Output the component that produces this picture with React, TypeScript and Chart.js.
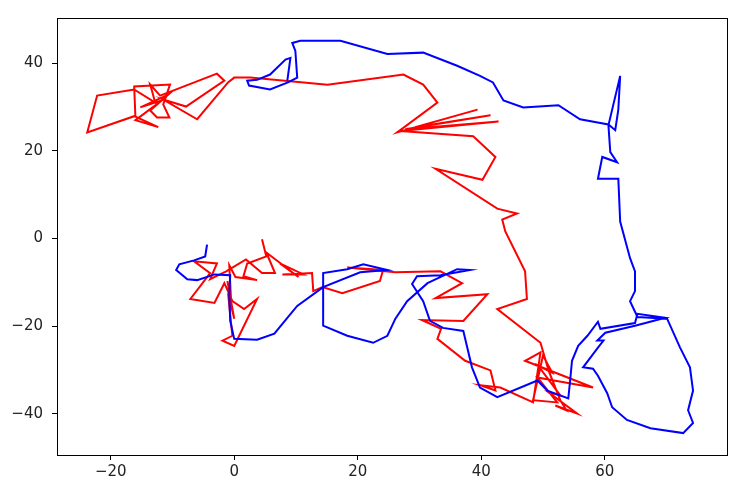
import React, { useEffect, useRef } from "react";
import { Chart, registerables } from "chart.js";

Chart.register(...registerables);

// Blue walk
const blueX = [8.6, 9.1, 8.3, 5.8, 3.7, 2.1, 2.4, 5.8, 8.7, 10.2, 9.9, 9.4, 10.7, 17.2, 24.8, 30.6, 36.1, 39.8, 41.9, 43.6, 46.8, 52.5, 56.0, 60.6, 61.7, 62.2, 62.5, 60.6, 60.9, 62.0, 59.6, 58.9, 62.2, 62.5, 64.1, 64.9, 64.9, 64.1, 65.3, 70.1, 72.2, 73.8, 74.3, 73.5, 74.3, 72.7, 67.4, 63.6, 61.2, 60.4, 58.9, 58.1, 56.5, 58.9, 59.8, 58.8, 60.1, 64.9, 69.8, 65.3, 64.9, 59.3, 58.9, 57.2, 55.7, 54.7, 54.4, 54.1, 50.7, 49.1, 42.6, 39.8, 38.5, 37.1, 33.8, 31.7, 30.6, 28.8, 29.6, 33.4, 38.2, 36.1, 31.3, 28.0, 26.1, 24.8, 22.5, 18.3, 14.4, 14.4, 18.3, 20.9, 24.8, 20.4, 14.4, 10.2, 8.6, 6.5, 3.7, 0.0, -0.65, -0.8, -0.65, -3.2, -6.0, -7.6, -9.4, -8.9, -6.5, -4.7, -4.4];
const blueY = [36.0, 41.2, 40.8, 37.4, 36.2, 36.0, 34.9, 34.0, 35.6, 36.7, 42.8, 44.6, 45.1, 45.1, 42.1, 42.4, 39.4, 37.1, 35.6, 31.5, 29.9, 30.4, 27.2, 26.0, 24.7, 29.4, 37.1, 25.8, 19.7, 17.4, 18.6, 13.6, 13.6, 3.85, -4.5, -7.5, -12.0, -14.3, -17.9, -18.3, -24.9, -29.4, -34.7, -39.2, -42.1, -44.4, -43.3, -41.4, -38.5, -35.3, -31.3, -29.7, -29.4, -24.9, -23.3, -23.3, -21.5, -19.9, -18.1, -17.2, -19.3, -20.6, -19.0, -22.2, -24.5, -27.9, -32.4, -36.5, -34.7, -32.4, -36.2, -34.0, -29.4, -21.1, -20.4, -18.8, -14.3, -10.4, -8.6, -8.4, -7.2, -7.0, -10.2, -14.3, -18.3, -22.2, -23.8, -22.2, -19.9, -7.9, -7.0, -5.9, -7.2, -7.7, -11.1, -15.4, -18.1, -21.7, -23.1, -22.9, -18.8, -13.1, -8.4, -8.2, -9.5, -9.3, -7.2, -5.9, -5.0, -4.1, -1.4];

// Red walk
const redX = [4.5, 5.2, 2.1, 1.5, 3.7, 0.2, -0.8, -0.5, -1.1, 0.0, -1.0, -0.3, -1.9, 0.0, 3.7, 1.6, -0.3, -1.6, -3.2, -7.1, -3.9, -6.5, -2.8, -3.9, -1.3, 1.9, 4.5, 6.6, 5.2, 10.4, 7.4, 11.2, 7.8, 12.6, 12.8, 14.3, 17.5, 23.6, 24.1, 18.3, 26.1, 33.4, 36.9, 32.6, 41.0, 37.1, 30.4, 33.5, 32.9, 37.4, 41.5, 42.3, 39.8, 43.1, 48.4, 49.6, 47.1, 58.1, 49.1, 52.3, 48.4, 50.0, 51.5, 49.2, 52.8, 50.9, 55.5, 52.0, 53.8, 52.8, 50.9, 49.6, 42.6, 47.4, 47.1, 43.9, 43.4, 45.8, 42.6, 32.6, 40.2, 42.3, 38.7, 26.9, 42.8, 27.7, 41.5, 29.3, 39.4, 26.4, 32.9, 30.6, 27.4, 15.1, 2.6, 0.0, -1.0, -6.0, -11.5, -7.8, -1.6, -2.8, -12.0, -13.6, -12.8, -16.2, -22.2, -23.8, -16.2, -12.3, -16.0, -11.7, -15.2, -10.7, -13.6, -12.5, -10.5, -11.5, -10.4, -16.2, -16.0];
const redY = [-0.2, -4.1, -5.7, -8.6, -9.5, -8.8, -6.1, -14.3, -9.7, -18.3, -12.5, -22.2, -23.3, -24.5, -13.8, -16.1, -14.3, -10.2, -14.7, -13.8, -7.9, -5.2, -5.7, -9.3, -7.5, -4.8, -7.9, -7.9, -3.2, -8.8, -5.7, -8.2, -8.2, -7.9, -12.0, -11.1, -12.5, -9.7, -7.2, -6.6, -7.7, -7.5, -10.2, -13.6, -12.7, -18.8, -18.6, -20.6, -22.9, -27.9, -30.1, -34.7, -33.5, -34.0, -37.4, -26.0, -27.9, -34.0, -31.7, -37.4, -36.9, -26.7, -30.6, -29.0, -35.8, -35.1, -39.9, -38.1, -39.2, -36.9, -30.1, -23.8, -16.1, -13.8, -7.5, 1.6, 4.3, 5.7, 6.8, 15.9, 13.4, 18.6, 23.3, 24.5, 26.7, 24.9, 28.1, 25.4, 29.4, 24.2, 31.0, 35.1, 37.4, 35.1, 36.7, 36.7, 35.6, 27.2, 31.7, 30.1, 36.0, 37.6, 32.6, 35.1, 31.0, 34.0, 32.6, 24.2, 27.9, 25.4, 27.0, 31.5, 29.9, 32.8, 29.2, 27.6, 27.6, 30.6, 35.1, 34.7, 27.6];

const xTicks = [-20, 0, 20, 40, 60];
const yTicks = [-40, -20, 0, 20, 40];

const fmt = (v: number) => (v < 0 ? "\u2212" + Math.abs(v) : String(v));

export default function App() {
  const ref = useRef<HTMLCanvasElement>(null);
  useEffect(() => {
    if (!ref.current) return;
    const toPts = (xs: number[], ys: number[]) => xs.map((x, i) => ({ x, y: ys[i] }));
    const frame = {
      id: "frame",
      afterDraw(chart: any) {
        const { ctx, chartArea: a } = chart;
        ctx.save();
        ctx.strokeStyle = "#000";
        ctx.lineWidth = 1;
        ctx.strokeRect(Math.round(a.left) + 0.5, Math.round(a.top) + 0.5, Math.round(a.right - a.left), Math.round(a.bottom - a.top));
        ctx.restore();
      },
    };
    const tickFont = { family: "DejaVu Sans", size: 15 };
    const chart = new Chart(ref.current, {
      type: "scatter",
      data: {
        datasets: [
          { data: toPts(blueX, blueY), borderColor: "#0000ff", backgroundColor: "#0000ff", showLine: true, pointRadius: 0, borderWidth: 2, tension: 0 },
          { data: toPts(redX, redY), borderColor: "#ff0000", backgroundColor: "#ff0000", showLine: true, pointRadius: 0, borderWidth: 2, tension: 0 },
        ],
      },
      options: {
        animation: false,
        responsive: false,
        layout: { padding: { left: 0, top: 15, right: 11, bottom: 0 } },
        plugins: { legend: { display: false }, tooltip: { enabled: false } },
        scales: {
          x: {
            type: "linear",
            min: -28.7,
            max: 79.8,
            afterBuildTicks: (s: any) => { s.ticks = xTicks.map((v) => ({ value: v })); },
            afterFit: (s: any) => { s.height = 45; },
            grid: { drawOnChartArea: false, drawTicks: true, tickLength: 5, color: "#000" },
            border: { display: true, color: "#000" },
            ticks: { color: "#222", font: tickFont, padding: 3, maxRotation: 0, callback: (v: any) => fmt(Number(v)) },
          },
          y: {
            type: "linear",
            min: -49.4,
            max: 50.3,
            afterBuildTicks: (s: any) => { s.ticks = yTicks.map((v) => ({ value: v })); },
            afterFit: (s: any) => { s.width = 57; },
            grid: { drawOnChartArea: false, drawTicks: true, tickLength: 5, color: "#000" },
            border: { display: true, color: "#000" },
            ticks: { color: "#222", font: tickFont, padding: 9, callback: (v: any) => fmt(Number(v)) },
          },
        },
      },
      plugins: [frame],
    });
    return () => chart.destroy();
  }, []);
  return (
    <div style={{ position: "absolute", left: 0, top: 0, width: 738, height: 500, background: "#fff" }}>
      <canvas ref={ref} width={738} height={500} style={{ width: 738, height: 500 }} />
    </div>
  );
}
